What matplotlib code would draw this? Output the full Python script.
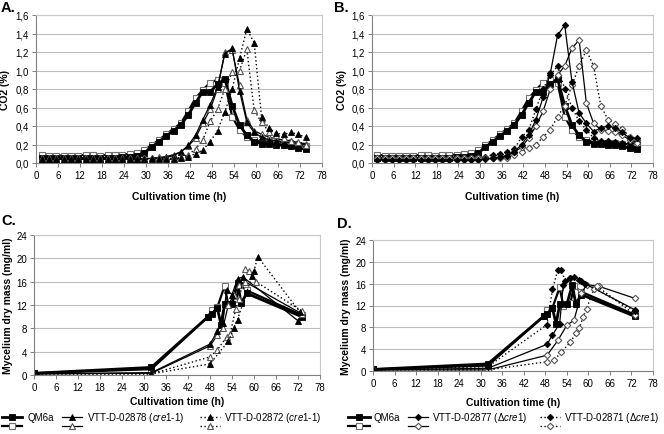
import matplotlib
matplotlib.use("Agg")
import matplotlib.pyplot as plt
from matplotlib.lines import Line2D

plt.rcParams['font.family'] = ['Liberation Sans', 'DejaVu Sans']
plt.rcParams['mathtext.fontset'] = 'custom'
plt.rcParams['mathtext.it'] = 'Liberation Sans:italic'
plt.rcParams['mathtext.rm'] = 'Liberation Sans'

# ---------------- data ----------------
hours = [1.5, 3.5, 5.5, 7.5, 9.5, 11.5, 13.5, 15.5, 17.5, 19.5, 21.5, 23.5, 25.5,
         27.5, 29.5, 31.5, 33.5, 35.5, 37.5, 39.5, 41.5, 43.5, 45.5, 47.5, 49.5,
         51.5, 53.5, 55.5, 57.5, 59.5, 61.5, 63.5, 65.5, 67.5, 69.5, 71.5, 73.5]

co2_qm6a_f = [0.05, 0.05, 0.05, 0.05, 0.05, 0.05, 0.05, 0.05, 0.05, 0.05, 0.05, 0.06, 0.07,
              0.08, 0.11, 0.17, 0.23, 0.29, 0.35, 0.41, 0.52, 0.65, 0.77, 0.77, 0.85,
              0.91, 0.62, 0.41, 0.30, 0.23, 0.21, 0.21, 0.20, 0.19, 0.18, 0.16, 0.15]
co2_qm6a_o = [0.09, 0.08, 0.08, 0.08, 0.08, 0.08, 0.09, 0.09, 0.08, 0.09, 0.09, 0.09, 0.10,
              0.11, 0.14, 0.19, 0.25, 0.31, 0.37, 0.43, 0.56, 0.70, 0.79, 0.87, 0.90,
              0.87, 0.50, 0.36, 0.28, 0.25, 0.23, 0.22, 0.22, 0.22, 0.21, 0.20, 0.18]
co2_02878_f = [0.04, 0.04, 0.04, 0.04, 0.04, 0.04, 0.04, 0.04, 0.04, 0.04, 0.04, 0.04, 0.04,
               0.04, 0.04, 0.05, 0.05, 0.06, 0.08, 0.12, 0.19, 0.30, 0.47, 0.63, 0.82,
               1.18, 1.24, 0.78, 0.44, 0.33, 0.28, 0.25, 0.24, 0.23, 0.22, 0.21, 0.20]
co2_02878_o = [0.05, 0.05, 0.05, 0.05, 0.05, 0.05, 0.05, 0.05, 0.05, 0.05, 0.05, 0.05, 0.05,
               0.05, 0.05, 0.05, 0.06, 0.07, 0.09, 0.12, 0.18, 0.27, 0.43, 0.58, 0.80,
               1.20, 1.22, 0.84, 0.47, 0.35, 0.31, 0.28, 0.26, 0.25, 0.24, 0.22, 0.21]
co2_02872_f = [0.04, 0.04, 0.04, 0.04, 0.04, 0.04, 0.04, 0.04, 0.04, 0.04, 0.04, 0.04, 0.04,
               0.04, 0.04, 0.04, 0.04, 0.04, 0.04, 0.05, 0.07, 0.10, 0.14, 0.23, 0.35,
               0.55, 0.80, 1.13, 1.45, 1.30, 0.50, 0.38, 0.32, 0.31, 0.33, 0.31, 0.28]
co2_02872_o = [0.05, 0.05, 0.05, 0.05, 0.05, 0.05, 0.05, 0.05, 0.05, 0.05, 0.05, 0.05, 0.05,
               0.05, 0.05, 0.05, 0.05, 0.05, 0.05, 0.06, 0.09, 0.15, 0.25, 0.45, 0.58,
               0.80, 0.98, 1.00, 1.23, 0.57, 0.44, 0.34, 0.30, 0.27, 0.24, 0.23, 0.20]
co2_02877_f = [0.03, 0.03, 0.03, 0.03, 0.03, 0.03, 0.03, 0.03, 0.03, 0.03, 0.03, 0.03, 0.03,
               0.03, 0.03, 0.04, 0.05, 0.06, 0.08, 0.12, 0.20, 0.30, 0.47, 0.71, 0.97,
               1.38, 1.49, 0.88, 0.54, 0.43, 0.34, 0.38, 0.40, 0.38, 0.33, 0.27, 0.27]
co2_02877_o = [0.05, 0.05, 0.05, 0.05, 0.05, 0.05, 0.05, 0.05, 0.05, 0.05, 0.05, 0.05, 0.05,
               0.05, 0.05, 0.05, 0.05, 0.06, 0.08, 0.12, 0.17, 0.27, 0.40, 0.56, 0.80,
               0.95, 1.05, 1.24, 1.33, 0.65, 0.43, 0.36, 0.35, 0.33, 0.30, 0.25, 0.22]
co2_02871_f = [0.04, 0.04, 0.04, 0.04, 0.04, 0.04, 0.04, 0.04, 0.04, 0.04, 0.04, 0.04, 0.04,
               0.04, 0.04, 0.07, 0.09, 0.10, 0.12, 0.15, 0.28, 0.36, 0.58, 0.80, 0.95,
               1.05, 0.80, 0.60, 0.45, 0.36, 0.27, 0.24, 0.24, 0.23, 0.22, 0.22, 0.23]
co2_02871_o = [0.05, 0.05, 0.05, 0.05, 0.05, 0.05, 0.05, 0.05, 0.05, 0.05, 0.05, 0.05, 0.05,
               0.05, 0.05, 0.05, 0.05, 0.05, 0.05, 0.09, 0.12, 0.16, 0.20, 0.28, 0.36,
               0.50, 0.62, 0.84, 1.05, 1.22, 1.05, 0.62, 0.47, 0.42, 0.37, 0.28, 0.25]

mass_qm6a_f_t = [0, 32, 47.5, 48.5, 50, 51, 52, 54, 55.5, 56.5, 58, 73]
mass_qm6a_f = [0.3, 1.3, 10.0, 10.5, 11.5, 8.6, 12.2, 12.2, 15.8, 12.3, 14.0, 10.0]
mass_qm6a_o_t = [0, 32, 47.5, 48.5, 50, 52, 53, 55, 56, 58, 73]
mass_qm6a_o = [0.3, 1.0, 10.0, 11.2, 11.6, 15.3, 12.0, 12.5, 15.5, 14.5, 10.3]
mass_02878_f_t = [0, 32, 48, 50, 51.5, 52.5, 54, 55.5, 57, 72]
mass_02878_f = [0.2, 0.4, 5.3, 7.5, 9.0, 14.5, 13.8, 16.5, 16.8, 9.3]
mass_02878_o_t = [0, 32, 48, 50, 51.5, 53, 54.5, 56, 57.5, 73]
mass_02878_o = [0.2, 0.3, 5.0, 6.8, 8.0, 12.0, 13.8, 15.5, 16.0, 10.5]
mass_02872_f_t = [0, 32, 48, 53, 54.5, 55.5, 59.5, 60, 61, 72.5]
mass_02872_f = [0.2, 0.2, 1.9, 5.8, 8.0, 9.5, 17.0, 17.8, 20.3, 10.8]
mass_02872_o_t = [0, 32, 48, 50, 52.5, 53.5, 55, 56, 57.5, 58.5, 60.5, 73]
mass_02872_o = [0.2, 0.2, 3.1, 4.3, 6.5, 7.0, 11.3, 13.0, 18.2, 17.8, 16.0, 11.0]
mass_02877_f_t = [0, 32, 48.5, 50, 52, 53, 55, 56, 57.5, 59, 73]
mass_02877_f = [0.2, 0.5, 4.9, 6.6, 8.7, 15.8, 17.0, 17.2, 16.7, 16.0, 11.2]
mass_02871_f_t = [0, 32, 48.5, 50, 51.5, 52.5, 53.5, 55, 58, 73]
mass_02871_f = [0.2, 0.8, 8.5, 15.0, 18.5, 18.5, 16.5, 17.0, 16.5, 11.0]
mass_02877_o_t = [0, 32, 48.5, 51.5, 54, 56, 58, 59.5, 63, 73]
mass_02877_o = [0.2, 0.2, 2.9, 5.6, 8.4, 9.3, 14.2, 15.8, 15.5, 13.3]
mass_02871_o_t = [0, 32, 48.5, 50.5, 52.5, 55, 56.5, 57.5, 58.5, 59.5, 61.5, 62.5, 73]
mass_02871_o = [0.2, 0.2, 1.7, 2.0, 3.5, 5.3, 6.9, 7.8, 9.9, 11.4, 15.0, 15.5, 10.3]

x_ticks = [0, 6, 12, 18, 24, 30, 36, 42, 48, 54, 60, 66, 72, 78]
co2_ticks = [0.0, 0.2, 0.4, 0.6, 0.8, 1.0, 1.2, 1.4, 1.6]
co2_ticklabels = ["0,0", "0,2", "0,4", "0,6", "0,8", "1,0", "1,2", "1,4", "1,6"]
mass_ticks = [0, 4, 8, 12, 16, 20, 24]

legend_C = ["QM6a", "VTT-D-02878 ($\\it{cre1}$-$\\it{1}$)", "VTT-D-02872 ($\\it{cre1}$-$\\it{1}$)"]
legend_D = ["QM6a", "VTT-D-02877 (\u0394$\\it{cre1}$)", "VTT-D-02871 (\u0394$\\it{cre1}$)"]

# ---------------- styles ----------------
DOT = (0, (1, 1.8))
MS = {'s': 3.8, '^': 4.2, 'D': 3.3}


def st(marker, filled, dotted=False, thick=False):
    d = dict(color='black', marker=marker, ms=MS[marker])
    d['ls'] = DOT if dotted else '-'
    d['lw'] = (2.0 if filled else 1.6) if thick else (1.0 if dotted else 0.9)
    if filled:
        d.update(mfc='black', mec='black', mew=0.6)
    else:
        d.update(mfc='white', mec='#707070' if thick else '#555555', mew=0.8)
    return d


W, H = 664, 435
fig = plt.figure(figsize=(W / 100, H / 100), dpi=100)


def px_axes(l, r, t, b):
    return fig.add_axes([l / W, 1 - b / H, (r - l) / W, (b - t) / H])


def style_axes(ax, ymax, yticks, ylabels, ylabel, xlab_y, ylab_x):
    ax.set_xlim(0, 78)
    ax.set_ylim(0, ymax)
    ax.set_xticks(x_ticks)
    ax.set_xticklabels([str(v) for v in x_ticks], fontsize=7)
    ax.set_yticks(yticks)
    ax.set_yticklabels(ylabels, fontsize=7)
    ax.yaxis.grid(True, color='#bdbdbd', lw=0.8)
    ax.set_axisbelow(True)
    for s in ['top', 'right']:
        ax.spines[s].set_color('#c8c8c8')
        ax.spines[s].set_linewidth(0.8)
    for s in ['left', 'bottom']:
        ax.spines[s].set_color('#808080')
        ax.spines[s].set_linewidth(0.8)
    ax.tick_params(axis='both', direction='out', length=3, width=0.7, color='#808080', pad=2)
    ax.set_xlabel("Cultivation time (h)", fontsize=7.5, fontweight='bold')
    ax.xaxis.set_label_coords(0.5, xlab_y)
    ax.set_ylabel(ylabel, fontsize=7.5, fontweight='bold')
    ax.yaxis.set_label_coords(ylab_x, 0.5)


# Panel A
axA = px_axes(36, 322, 16, 164)
axA.plot(hours, co2_qm6a_o, **st('s', False, thick=True))
axA.plot(hours, co2_qm6a_f, **st('s', True, thick=True))
axA.plot(hours, co2_02878_o, **st('^', False))
axA.plot(hours, co2_02878_f, **st('^', True))
axA.plot(hours, co2_02872_o, **st('^', False, dotted=True))
axA.plot(hours, co2_02872_f, **st('^', True, dotted=True))
style_axes(axA, 1.6, co2_ticks, co2_ticklabels, "CO2 (%)", -0.19, -0.09)

# Panel B
axB = px_axes(372, 653, 16, 164)
axB.plot(hours, co2_qm6a_o, **st('s', False, thick=True))
axB.plot(hours, co2_qm6a_f, **st('s', True, thick=True))
axB.plot(hours, co2_02871_o, **st('D', False, dotted=True))
axB.plot(hours, co2_02871_f, **st('D', True, dotted=True))
axB.plot(hours, co2_02877_o, **st('D', False))
axB.plot(hours, co2_02877_f, **st('D', True))
style_axes(axB, 1.6, co2_ticks, co2_ticklabels, "CO2 (%)", -0.19, -0.09)

# Panel C
axC = px_axes(34, 320, 236, 376)
axC.plot(mass_qm6a_o_t, mass_qm6a_o, **st('s', False, thick=True))
axC.plot(mass_qm6a_f_t, mass_qm6a_f, **st('s', True, thick=True))
axC.plot(mass_02878_o_t, mass_02878_o, **st('^', False))
axC.plot(mass_02878_f_t, mass_02878_f, **st('^', True))
axC.plot(mass_02872_o_t, mass_02872_o, **st('^', False, dotted=True))
axC.plot(mass_02872_f_t, mass_02872_f, **st('^', True, dotted=True))
style_axes(axC, 24, mass_ticks, [str(v) for v in mass_ticks],
           "Mycelium dry mass (mg/ml)", -0.15, -0.075)

# Panel D
axD = px_axes(373, 653, 241, 372)
axD.plot(mass_qm6a_o_t, mass_qm6a_o, **st('s', False, thick=True))
axD.plot(mass_qm6a_f_t, mass_qm6a_f, **st('s', True, thick=True))
axD.plot(mass_02877_o_t, mass_02877_o, **st('D', False))
axD.plot(mass_02877_f_t, mass_02877_f, **st('D', True))
axD.plot(mass_02871_o_t, mass_02871_o, **st('D', False, dotted=True))
axD.plot(mass_02871_f_t, mass_02871_f, **st('D', True, dotted=True))
style_axes(axD, 24, mass_ticks, [str(v) for v in mass_ticks],
           "Mycelium dry mass (mg/ml)", -0.2, -0.08)

# panel letters
for lab, x, y in [("A.", 1, 8), ("B.", 334, 8), ("C.", 1, 221), ("D.", 337, 224)]:
    fig.text(x / W, 1 - y / H, lab, fontsize=10.5, fontweight='bold', va='center', ha='left')


# legends
def legend_entry(x1, x2, y_f, y_o, sf, so, tx, text):
    xm = [x1 / W, (x1 + x2) / 2 / W, x2 / W]
    for yy, s in [(y_f, sf), (y_o, so)]:
        ln = Line2D(xm, [1 - yy / H] * 3, transform=fig.transFigure, markevery=[1], **s)
        fig.add_artist(ln)
    fig.text(tx / W, 1 - y_f / H, text, fontsize=7, va='center', ha='left')


yf, yo = 418, 427
legend_entry(2, 22, yf, yo, st('s', True, thick=True), st('s', False, thick=True), 27, legend_C[0])
legend_entry(62, 82, yf, yo, st('^', True), st('^', False), 87, legend_C[1])
legend_entry(200, 220, yf, yo, st('^', True, dotted=True), st('^', False, dotted=True), 224, legend_C[2])
legend_entry(348, 370, yf, yo, st('s', True, thick=True), st('s', False, thick=True), 373, legend_D[0])
legend_entry(408, 428, yf, yo, st('D', True), st('D', False), 432, legend_D[1])
legend_entry(540, 560, yf, yo, st('D', True, dotted=True), st('D', False, dotted=True), 564, legend_D[2])

fig.savefig("out.png", dpi=100)
